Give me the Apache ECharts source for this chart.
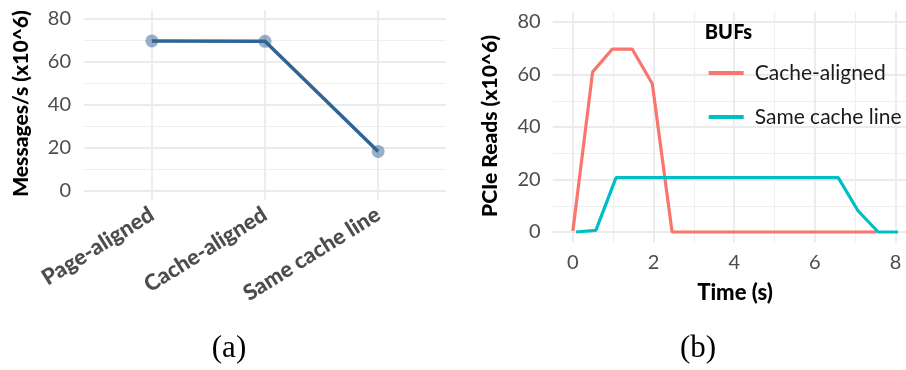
<!DOCTYPE html>
<html><head><meta charset="utf-8">
<script src="https://cdn.jsdelivr.net/npm/echarts@6/dist/echarts.min.js"></script>
<style>html,body{margin:0;padding:0;background:#fff}#c{width:906px;height:370px}</style>
</head><body><div id="c"></div><script>
// (a) throughput per buffer layout
const categories = ['Page-aligned', 'Cache-aligned', 'Same cache line'];
const messagesPerSec = [69.8, 69.6, 18.4];
const yTicksA = [0, 20, 40, 60, 80];
const yMinorA = [10, 30, 50, 70];

// (b) PCIe reads over time
const cacheAlignedTime = [0, 0.49, 0.98, 1.47, 1.97, 2.46, 2.95, 3.44, 3.93, 4.42, 4.91, 5.40, 5.89, 6.38, 6.87, 7.36, 7.53];
const cacheAlignedReads = [0.4, 61.0, 69.7, 69.7, 56.5, 0, 0, 0, 0, 0, 0, 0, 0, 0, 0, 0, 0];
const sameLineTime = [0.08, 0.57, 1.07, 1.57, 2.07, 2.57, 3.07, 3.57, 4.07, 4.57, 5.07, 5.57, 6.07, 6.58, 7.07, 7.57, 8.06];
const sameLineReads = [0, 0.6, 20.7, 20.7, 20.7, 20.7, 20.7, 20.7, 20.7, 20.7, 20.7, 20.7, 20.7, 20.7, 8.1, 0, 0];
const xTicksB = [0, 2, 4, 6, 8];
const xMinorB = [1, 3, 5, 7];
const yTicksB = [0, 20, 40, 60, 80];
const yMinorB = [10, 30, 50, 70];
const seriesNames = ['Cache-aligned', 'Same cache line'];
const legendTitle = 'BUFs';

const FONT = 'Lato';
const GRID_MAJOR = { show: true, lineStyle: { color: '#ebebeb', width: 1.8 } };
const GRID_MINOR = { show: true, lineStyle: { color: '#efefef', width: 1.2 } };
const TICK_LABEL = { color: '#4d4d4d', fontFamily: FONT, fontSize: 20 };

function valueAxis(opts) {
  return Object.assign({
    type: 'value',
    axisLine: { show: false },
    axisTick: { show: false },
    axisLabel: { show: false },
    splitLine: { show: false },
    minorSplitLine: { show: false }
  }, opts);
}

const chart = echarts.init(document.getElementById('c'), null, { renderer: 'canvas' });

const blue = '#2f6494';

const option = {
  backgroundColor: '#ffffff',
  animation: false,
  grid: [
    { left: 84, top: 10.4, width: 362, height: 189.2, containLabel: false },
    { left: 552.7, top: 11.5, right: 0, height: 231, containLabel: false }
  ],
  xAxis: [
    valueAxis({ gridIndex: 0, min: 0.4, max: 3.6,
      axisTick: { show: false, customValues: categories.map((c, i) => i + 1) },
      axisLabel: { show: true, customValues: categories.map((c, i) => i + 1),
        formatter: v => categories[Math.round(v) - 1] || '',
        rotate: 32, margin: 13, color: '#4d4d4d', fontFamily: FONT, fontWeight: 900, fontSize: 22 },
      splitLine: GRID_MAJOR }),
    valueAxis({ gridIndex: 1, min: -0.5, max: 8.26,
      axisTick: { show: false, customValues: xTicksB },
      axisLabel: Object.assign({ show: true, customValues: xTicksB, margin: 10 }, TICK_LABEL),
      splitLine: GRID_MAJOR }),
    valueAxis({ gridIndex: 1, min: -0.5, max: 8.26, position: 'top',
      axisTick: { show: false, customValues: xMinorB },
      splitLine: GRID_MINOR })
  ],
  yAxis: [
    valueAxis({ gridIndex: 0, min: -4, max: 84,
      axisTick: { show: false, customValues: yTicksA },
      axisLabel: Object.assign({ show: true, customValues: yTicksA, margin: 13 }, TICK_LABEL),
      splitLine: GRID_MAJOR }),
    valueAxis({ gridIndex: 0, min: -4, max: 84, position: 'right',
      axisTick: { show: false, customValues: yMinorA },
      splitLine: GRID_MINOR }),
    valueAxis({ gridIndex: 1, min: -4, max: 84,
      axisTick: { show: false, customValues: yTicksB },
      axisLabel: Object.assign({ show: true, customValues: yTicksB, margin: 12 }, TICK_LABEL),
      splitLine: GRID_MAJOR }),
    valueAxis({ gridIndex: 1, min: -4, max: 84, position: 'right',
      axisTick: { show: false, customValues: yMinorB },
      splitLine: GRID_MINOR })
  ],
  legend: {
    data: seriesNames,
    orient: 'vertical',
    left: 708.7,
    top: 61,
    padding: 0,
    itemGap: 20,
    itemWidth: 35,
    itemHeight: 4,
    icon: 'rect',
    textStyle: { color: '#1a1a1a', fontFamily: FONT, fontSize: 21, lineHeight: 24, padding: [0, 0, 0, 6] }
  },
  graphic: [
    { type: 'text', x: 21.5, y: 103.5, rotation: Math.PI / 2,
      style: { text: 'Messages/s (x10^6)', fill: '#000', font: '900 21px Lato', textAlign: 'center', textVerticalAlign: 'middle' } },
    { type: 'text', x: 490, y: 126, rotation: Math.PI / 2,
      style: { text: 'PCIe Reads (x10^6)', fill: '#000', font: '900 21px Lato', textAlign: 'center', textVerticalAlign: 'middle' } },
    { type: 'text', x: 735, y: 293,
      style: { text: 'Time (s)', fill: '#000', font: '900 22px Lato', textAlign: 'center', textVerticalAlign: 'middle' } },
    { type: 'text', x: 704.7, y: 33,
      style: { text: legendTitle, fill: '#000', font: '900 20px Lato', textAlign: 'left', textVerticalAlign: 'middle' } },
    { type: 'text', x: 229, y: 349,
      style: { text: '(a)', fill: '#000', font: '31px "Liberation Serif"', textAlign: 'center', textVerticalAlign: 'middle' } },
    { type: 'text', x: 698, y: 349,
      style: { text: '(b)', fill: '#000', font: '31px "Liberation Serif"', textAlign: 'center', textVerticalAlign: 'middle' } }
  ],
  series: [
    { type: 'scatter', xAxisIndex: 0, yAxisIndex: 0, z: 2,
      data: messagesPerSec.map((v, i) => [i + 1, v]),
      symbolSize: 13, itemStyle: { color: blue, opacity: 0.5 } },
    { type: 'line', xAxisIndex: 0, yAxisIndex: 0, z: 3,
      data: messagesPerSec.map((v, i) => [i + 1, v]),
      showSymbol: false, lineStyle: { color: blue, width: 3.5 } },
    { name: seriesNames[0], type: 'line', xAxisIndex: 1, yAxisIndex: 2, z: 3,
      data: cacheAlignedTime.map((t, i) => [t, cacheAlignedReads[i]]),
      showSymbol: false, color: '#F8766D', lineStyle: { color: '#F8766D', width: 3.2 }, itemStyle: { color: '#F8766D' } },
    { name: seriesNames[1], type: 'line', xAxisIndex: 1, yAxisIndex: 2, z: 4,
      data: sameLineTime.map((t, i) => [t, sameLineReads[i]]),
      showSymbol: false, color: '#00BFC4', lineStyle: { color: '#00BFC4', width: 3.2 }, itemStyle: { color: '#00BFC4' } }
  ]
};
chart.setOption(option);
</script></body></html>
